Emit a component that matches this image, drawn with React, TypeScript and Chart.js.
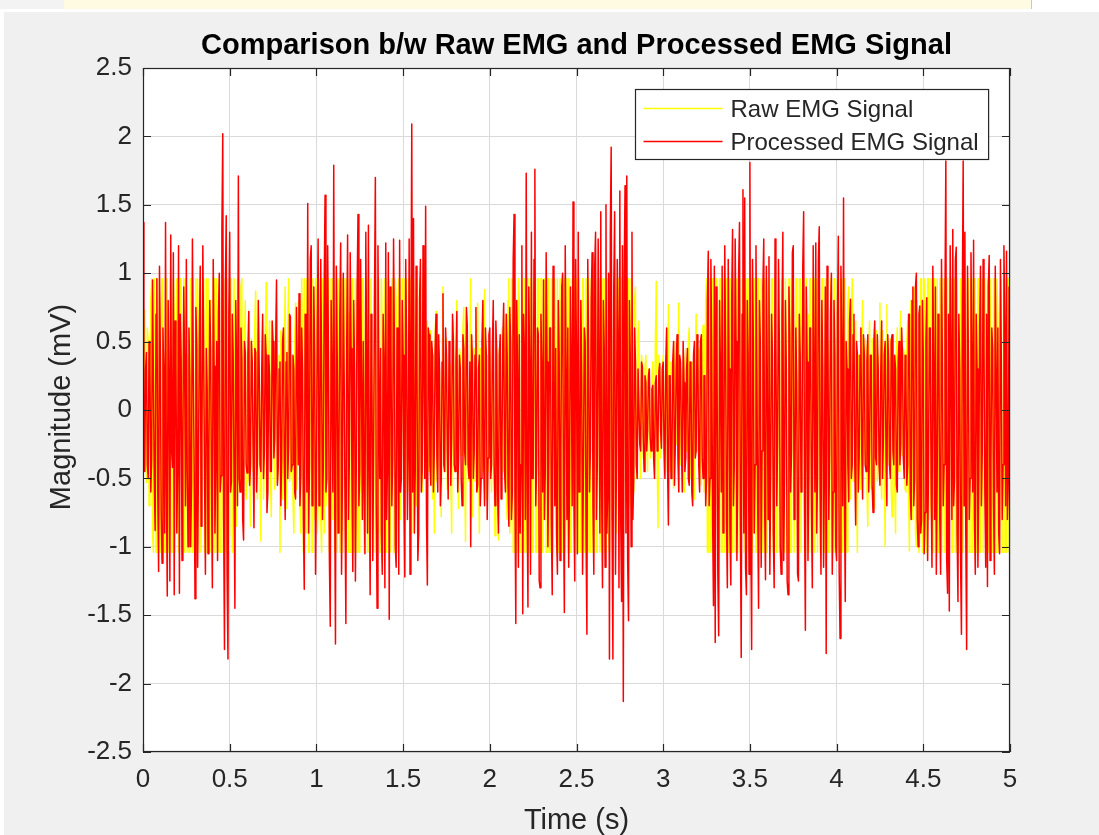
import React, { useEffect, useRef } from "react";
import { Chart, registerables } from "chart.js";

Chart.register(...registerables);

const TITLE = "Comparison b/w Raw EMG and Processed EMG Signal";
const X_LABEL = "Time (s)";
const Y_LABEL = "Magnitude (mV)";
const SERIES_NAMES = ["Raw EMG Signal", "Processed EMG Signal"];
const SERIES_COLORS = ["#ffff00", "#ff0000"];
const X_TICKS = [0, 0.5, 1, 1.5, 2, 2.5, 3, 3.5, 4, 4.5, 5];
const Y_TICKS = [-2.5, -2, -1.5, -1, -0.5, 0, 0.5, 1, 1.5, 2, 2.5];
const T_START = 0;
const T_END = 5;

// Raw EMG samples (mV), 0 s .. 5 s (one row = 0.5 s)
const RAW_EMG = [
  0.2,-0.4,0.73,-0.3,-0.53,0.6,0.5,-0.7,-0.3,0.8,0.96,-0.9,-1.04,0.96,0.5,-1.04,0.96,-0.6,-0.8,0.96,-1.04,0.7,0.96,-1.04,0.3,-1.04,-1.04,0.96,0.96,-1.04,-0.6,0.96,0.96,-1.04,-1.04,0.96,0.7,-1.04,-1.04,0.96,0.96,-1.04,-0.2,0.96,0.96,-1.04,-1.04,0.96,-1.04,0.96,0.96,-1.04,0.4,-1.04,-1.04,0.96,0.96,-1.04,0.96,-1.04,-0.9,0.96,-1.04,0.96,0.6,-1.04,0.96,-1.04,-1.04,0.96,0.96,-1.04,-0.4,0.96,-1.04,0.96,0.96,-1.04,0.8,-1.04,-1.04,0.96,0.96,-1.04,-1.04,0.96,0.2,-1.04,0.96,-1.04,-1.04,0.96,0.96,-0.8,-0.7,0.96,-1.04,0.96,0.96,-1.04,
  -0.9,0.96,0.96,-1.04,-0.7,0.96,0.96,-0.8,-0.85,0.96,0.96,-0.6,-0.5,0.9,0.96,-0.7,-0.6,0.5,0.8,-0.65,-0.52,0.4,0.72,-0.58,-0.85,0.52,0.4,-0.45,-0.26,0.65,0.87,-0.4,-0.65,0.58,0.26,-0.52,-0.96,0.45,0.58,-0.65,-0.4,0.52,0.93,-0.58,-0.13,0.4,0.65,-0.45,-0.78,0.52,0.45,-0.33,-0.58,0.65,0.78,-0.52,-0.4,0.4,-1.04,0.58,0.52,-0.65,-0.26,0.45,0.9,-0.4,-0.72,0.58,0.96,-0.52,-0.45,0.4,0.33,-0.65,-0.9,0.52,0.78,-0.58,-0.52,0.78,0.8,-0.7,-0.9,0.96,0.5,-1.04,0.96,-0.9,-0.8,0.96,0.96,-1.04,-1.04,0.96,0.4,-1.04,0.96,-0.8,-0.6,0.96,
  0.96,-0.9,-0.7,0.96,0.96,-0.8,-1.04,0.96,0.6,-0.9,0.96,-0.7,-0.5,0.96,0.96,-1.04,-0.9,0.96,0.96,-0.8,0.3,-1.04,-0.8,0.96,-1.04,0.96,0.96,-1.04,-1.04,0.96,0.96,-1.04,-0.3,0.96,-1.04,0.96,0.96,-1.04,0.7,-1.04,-1.04,0.96,0.96,-1.04,-1.04,0.96,0.5,-1.04,0.96,-1.04,-1.04,0.96,-0.6,0.96,0.96,-1.04,-1.04,0.96,0.96,-1.04,0.2,-1.04,-1.04,0.96,0.96,-1.04,-1.04,0.96,0.96,-1.04,-0.9,0.96,0.96,-1.04,-1.04,0.96,0.6,-1.04,-1.04,0.96,0.96,-1.04,-0.4,0.96,0.96,-1.04,-1.04,0.96,0.96,-1.04,-1.04,0.96,0.8,-1.04,-1.04,0.96,0.96,-0.8,-0.5,0.96,
  0.96,-0.7,-0.8,0.96,0.96,-0.6,-0.4,0.96,0.96,-0.8,-0.9,0.96,0.96,-0.5,0.3,-0.7,0.96,-0.6,-0.7,0.96,0.96,-0.5,-0.6,0.96,0.96,-0.4,-0.2,0.6,0.65,-0.4,-0.45,0.52,0.58,-0.33,-0.65,0.4,-0.9,0.58,0.72,-0.52,-0.4,0.45,0.26,-0.4,-0.78,0.52,0.9,-0.45,-0.2,0.4,0.52,-0.58,-0.58,0.33,0.13,-0.4,-0.9,0.52,0.65,-0.45,-0.26,0.4,0.8,-0.52,-0.72,0.45,0.4,-0.33,-0.33,0.58,0.75,-0.4,-0.96,0.52,0.26,-0.45,-0.52,0.4,0.96,-0.58,-0.78,0.4,0.45,-0.52,-0.26,0.58,0.78,-0.4,-0.9,0.45,0.4,-0.33,-0.45,0.65,0.88,-0.52,-0.65,0.4,0.26,-0.45,
  0.45,-0.3,-0.6,0.4,0.3,-0.5,-0.92,0.35,0.5,-0.4,-0.95,0.45,0.2,-0.3,0.6,-0.45,-0.4,0.5,0.7,-0.6,-0.8,0.8,0.96,-0.9,-0.6,0.96,0.96,-1.04,-1.04,0.96,0.6,-1.04,-1.04,0.96,0.8,-1.04,-1.04,0.96,0.5,-1.04,0.96,-1.04,-1.04,0.96,0.7,-1.04,-1.04,0.96,0.96,-1.04,-1.04,0.96,0.85,-1.04,-1.04,0.96,0.96,-1.04,-1.04,0.96,0.96,-1.04,-0.5,0.96,0.96,-1.04,-1.04,0.96,0.96,-1.04,-1.04,0.96,0.96,-1.04,-1.04,0.96,0.4,-1.04,0.96,-1.04,-1.04,0.96,0.96,-1.04,-1.04,0.96,0.96,-1.04,-0.7,0.96,-1.04,0.96,0.96,-1.04,-1.04,0.96,0.96,-1.04,-1.04,0.96,
  0.96,-1.04,-1.04,0.96,0.96,-1.04,-1.04,0.96,0.96,-1.04,-1.04,0.96,0.5,-1.04,0.96,-1.04,-1.04,0.96,0.96,-1.04,-1.04,0.96,0.96,-1.04,-1.04,0.96,0.96,-1.04,-0.8,0.96,-1.04,0.96,0.96,-1.04,-0.6,0.96,0.96,-0.9,-1.04,0.96,0.7,-0.8,-0.5,0.96,0.96,-0.7,-0.9,0.96,0.96,-0.6,-0.4,0.96,0.96,-0.8,-0.8,0.96,0.96,-0.5,-0.3,0.96,0.96,-0.6,-0.7,0.96,0.96,-0.5,-0.6,0.8,0.9,-0.5,-0.4,0.6,0.65,-0.3,-0.5,0.4,0.3,-0.35,-0.2,0.3,0.4,-0.25,-0.45,0.3,0.2,-0.35,-0.3,0.25,0.35,-0.4,-0.15,0.5,0.94,-0.3,-0.86,0.4,0.3,-0.35,-0.2,0.3,
  0.4,-0.3,-0.35,0.4,0.2,-0.45,0.77,-0.3,-0.45,0.35,0.3,-0.4,-0.57,0.3,0.5,-0.25,-0.2,0.4,0.78,-0.35,-0.4,0.3,0.25,-0.45,-0.6,0.35,0.45,-0.3,-0.3,0.5,0.6,-0.4,-0.5,0.3,0.35,-0.45,-0.65,0.4,0.7,-0.3,-0.25,0.45,0.4,-0.35,-0.55,0.5,0.62,-0.6,-0.4,0.8,0.96,-1.04,-1.04,0.96,0.96,-1.04,-0.8,0.96,0.96,-1.04,-1.04,0.96,0.5,-1.04,-1.04,0.96,0.96,-1.04,-1.04,0.96,0.96,-1.04,-0.6,0.96,0.96,-1.04,-1.04,0.96,0.96,-1.04,-1.04,0.96,0.3,-1.04,0.96,-1.04,-1.04,0.96,0.96,-1.04,-1.04,0.96,0.96,-1.04,-0.7,0.96,-1.04,0.96,0.96,-1.04,
  -1.04,0.96,0.96,-1.04,-0.5,0.96,0.96,-1.04,-1.04,0.96,0.96,-1.04,-1.04,0.96,0.6,-1.04,-1.04,0.96,0.96,-1.04,-1.04,0.96,0.96,-1.04,-0.3,0.96,0.96,-1.04,-1.04,0.96,0.96,-1.04,-1.04,0.96,0.96,-1.04,-0.8,0.96,0.96,-1.04,-1.04,0.96,0.4,-1.04,-1.04,0.96,0.96,-1.04,-1.04,0.96,0.96,-1.04,-1.04,0.96,0.96,-1.04,-0.6,0.96,0.96,-1.04,-1.04,0.96,0.96,-1.04,-1.04,0.96,0.7,-1.04,-1.04,0.96,0.96,-1.04,-1.04,0.96,0.96,-1.04,-0.4,0.96,-1.04,0.96,0.96,-1.04,-1.04,0.96,0.96,-1.04,-1.04,0.96,0.96,-1.04,0.5,-1.04,-1.04,0.96,0.96,-1.04,-1.04,0.96,0.96,-1.04,
  -1.04,0.96,0.96,-1.04,-1.04,0.96,0.96,-1.04,-0.8,0.96,0.96,-0.7,-1.04,0.78,0.9,-0.65,-0.65,0.58,0.96,-0.52,-0.4,0.45,0.65,-0.52,-1.04,0.4,0.4,-0.58,-0.52,0.45,0.8,-0.4,-0.26,0.52,0.45,-0.58,-0.85,0.4,0.65,-0.45,-0.58,0.52,0.26,-0.4,-0.72,0.45,0.58,-0.52,-0.4,0.4,0.78,-0.45,-0.65,0.58,0.4,-0.4,-1.0,0.52,0.77,-0.4,-0.26,0.45,0.52,-0.58,-0.78,0.4,0.33,-0.52,-0.9,0.45,0.6,-0.4,-0.45,0.52,0.72,-0.33,-0.33,0.45,0.4,-0.58,-0.6,0.5,0.65,-0.6,-1.03,0.7,0.8,-0.8,-0.7,0.9,0.87,-0.9,-1.0,0.8,0.5,-1.04,-0.9,0.96,0.96,-1.04,
  -0.6,0.96,0.8,-0.9,-1.04,0.96,0.96,-0.8,-0.7,0.96,0.9,-1.04,-1.04,0.96,0.6,-0.9,0.96,-1.04,-0.9,0.96,0.96,-1.04,-0.5,0.96,0.96,-1.04,-1.04,0.96,0.96,-1.04,-0.8,0.96,0.96,-1.04,-1.04,0.96,0.96,-1.04,-1.04,0.96,0.96,-1.04,-1.04,0.96,0.4,-1.04,-1.04,0.96,0.96,-1.04,-1.04,0.96,0.96,-1.04,-1.04,0.96,0.96,-1.04,-0.6,0.96,0.96,-1.04,-1.04,0.96,0.96,-1.04,-1.04,0.96,0.96,-1.04,-1.04,0.96,0.2,-1.04,0.96,-1.04,-1.04,0.96,0.96,-1.04,-1.04,0.96,0.96,-1.04,-1.04,0.96,0.7,-1.04,-1.04,0.96,0.96,-1.04,-1.04,0.96,0.96,-1.04,-1.04,0.96,0.96,-1.04,
  -1.04,
];

// Processed EMG samples (mV), 0 s .. 5 s (one row = 0.5 s)
const PROCESSED_EMG = [
  1.37,-0.2,-0.45,0.3,0.42,-0.4,-0.5,0.5,0.3,-0.6,-0.35,0.95,0.22,-0.5,-0.88,0.7,0.96,-0.6,-1.18,1.05,0.41,-0.75,-1.12,0.6,0.25,-0.9,1.37,-0.55,-1.36,0.8,0.22,-1.25,1.28,-0.3,-0.42,1.15,-1.35,0.65,0.35,-0.9,-0.41,1.2,-1.34,0.7,0.38,-1.1,-0.25,0.9,0.33,-0.7,1.1,-0.45,-1.0,0.6,0.22,-1.0,-0.52,1.25,0.31,-0.4,-1.38,0.75,0.46,-1.15,-0.38,0.5,1.05,-0.85,-0.22,1.2,0.39,-0.5,-1.2,0.45,0.16,-1.05,-0.31,0.8,0.44,-0.55,-1.3,1.1,0.32,-0.9,-0.35,0.5,-1.1,0.7,1.0,-0.6,-0.48,1.3,2.02,-0.8,-1.75,0.9,1.42,-1.2,-1.82,0.7,
  1.3,-0.6,-0.52,0.7,0.4,-0.5,-1.45,0.8,0.3,-0.7,1.71,-0.5,-0.6,0.6,0.38,-0.8,-0.95,0.5,0.42,-0.4,-0.46,0.4,0.72,-0.55,-0.4,0.5,0.35,-0.3,-0.86,0.45,0.42,-0.6,-0.35,0.8,0.3,-0.4,-0.45,0.3,0.7,-0.5,-0.3,0.55,0.4,-0.75,-0.6,0.4,0.25,-0.45,-0.45,0.65,0.5,-0.35,-0.2,0.45,0.95,-0.55,-0.42,0.3,0.35,-0.7,-0.35,0.5,0.6,-0.4,-0.8,0.35,0.42,-0.5,-0.25,0.7,0.68,-0.45,-0.4,0.4,0.3,-0.6,-0.65,0.75,0.3,-0.4,0.85,-0.7,-0.48,0.6,0.3,-0.8,-1.31,0.7,0.5,-0.6,1.51,-0.9,-0.4,1.1,1.2,-0.7,-0.6,0.9,0.4,-1.2,
  -0.55,0.6,1.25,-0.7,-0.4,1.1,0.3,-0.8,-0.4,0.9,1.57,-0.6,-0.5,1.2,0.3,-1.1,-1.58,0.8,0.2,-0.6,1.79,-0.5,-1.71,1.05,0.4,-0.9,-0.3,0.7,1.22,-1.2,-0.5,1.0,0.25,-0.7,-1.56,0.5,1.28,-0.8,-0.35,1.15,0.45,-0.5,-1.18,0.8,0.3,-1.25,-0.4,0.9,1.43,-0.7,-0.45,1.1,0.2,-0.8,0.5,-0.6,-1.05,1.3,0.3,-0.9,1.35,-0.5,-1.35,0.7,0.35,-1.1,-0.3,0.8,1.7,-0.7,-1.45,1.2,0.2,-0.5,0.45,-0.9,-1.2,0.7,0.35,-1.3,1.22,-0.8,-0.4,1.15,-1.53,0.9,0.48,-0.7,-0.35,1.25,0.45,-1.0,-1.15,0.6,0.3,-1.2,1.24,-0.6,-0.5,0.8,
  0.4,-0.7,-1.22,1.1,0.5,-0.8,-0.3,1.25,-1.2,0.5,2.09,-0.6,1.4,-0.9,-0.45,1.05,0.32,-1.1,-0.9,0.8,1.1,-0.6,-0.45,1.2,0.3,-0.5,1.49,-0.8,-1.28,0.6,0.55,-0.4,-0.55,0.5,0.4,-0.6,-0.3,0.45,0.7,-0.35,-0.6,0.55,0.3,-0.7,-0.5,0.35,0.85,-0.4,-0.45,0.6,0.4,-0.3,-0.65,0.5,0.4,-0.55,-0.2,0.7,0.5,-0.4,-0.45,0.35,0.72,-0.6,-0.35,0.4,0.3,-0.5,-0.7,0.55,0.45,-0.3,-0.4,0.75,0.62,-0.4,-0.5,0.35,-1.0,0.55,0.35,-0.5,-0.3,0.4,0.75,-0.6,-0.55,0.3,0.4,-0.7,-0.5,0.5,0.8,-0.4,-0.7,0.6,0.4,-0.8,-0.35,0.55,
  0.6,-0.5,-0.4,0.45,0.8,-0.4,-0.7,0.65,0.4,-0.6,-0.9,0.4,0.55,-0.65,-0.3,0.5,0.78,-0.45,-0.6,0.7,0.4,-0.55,-0.85,0.75,0.5,-0.8,-0.6,1.1,1.43,-0.6,-1.56,0.8,0.3,-1.15,0.55,-0.9,-0.4,1.2,-1.49,0.7,0.4,-0.8,1.73,-0.6,-1.44,0.9,0.3,-1.2,1.3,-0.5,-0.5,1.1,1.76,-0.7,-0.4,0.6,0.55,-1.25,-1.3,0.7,0.3,-0.6,0.95,-0.8,-0.45,1.15,0.35,-1.0,-0.4,0.6,0.6,-0.8,-1.35,1.05,0.2,-0.7,0.45,-0.9,-1.2,0.8,0.4,-1.1,-0.3,0.9,1.0,-0.7,-1.48,1.2,0.3,-0.8,0.6,-1.15,-0.5,0.9,0.35,-0.7,1.52,-0.6,-1.25,1.1,
  0.4,-1.05,1.3,-0.6,-0.5,0.8,0.25,-1.2,-0.4,0.6,0.5,-0.9,-1.64,1.1,0.4,-0.6,-0.3,0.8,1.15,-0.7,-1.2,1.05,1.3,-0.8,-0.4,1.25,0.3,-0.9,1.45,-0.6,-1.3,0.8,0.45,-1.15,1.5,-0.9,-0.6,1.0,-1.82,1.3,1.92,-0.8,-1.82,0.9,1.45,-1.2,-0.45,1.1,0.5,-1.3,1.6,-0.8,-1.4,1.2,-2.13,1.0,1.64,-0.9,1.71,-1.1,-1.54,0.8,0.4,-1.0,1.3,-0.8,-0.5,0.6,0.35,-0.4,-0.5,0.3,0.3,-0.25,-0.3,0.35,0.32,-0.2,-0.45,0.25,0.2,-0.3,-0.15,0.25,0.3,-0.2,-0.3,0.15,0.18,-0.35,-0.5,0.2,0.25,-0.3,-0.2,0.28,0.34,-0.15,-0.28,0.3,
  0.35,-0.3,-0.5,0.35,0.6,-0.4,-0.84,0.25,0.25,-0.5,-0.4,0.35,0.5,-0.55,-0.25,0.3,0.55,-0.35,-0.6,0.4,0.35,-0.25,-0.6,0.5,0.2,-0.45,-0.35,0.3,0.45,-0.5,-0.55,0.35,0.3,-0.6,-0.7,0.4,0.5,-0.35,-0.3,0.55,0.35,-0.4,-0.6,0.5,0.55,-0.35,-0.5,0.25,0.25,-0.7,-0.5,0.8,1.16,-0.7,-0.5,1.1,0.4,-0.8,-1.43,1.05,-1.7,0.9,0.5,-1.2,-1.65,0.8,0.3,-0.6,1.05,-0.9,-0.4,1.2,0.45,-0.8,-1.3,1.1,0.3,-0.9,-1.28,0.8,1.32,-0.7,-0.4,1.25,0.5,-1.1,-0.45,1.0,1.37,-0.8,-1.81,0.7,1.61,-0.9,1.55,-1.15,-1.35,0.8,0.4,-1.2,
  1.81,-0.8,-1.75,1.1,0.5,-0.9,-0.4,1.2,0.3,-0.7,-1.45,0.8,0.5,-1.15,-0.3,0.9,1.25,-0.7,-1.24,1.05,0.3,-0.8,1.12,-1.2,-0.45,0.7,0.4,-0.9,-1.3,1.25,0.5,-0.7,-0.2,1.1,0.45,-1.0,-1.2,0.7,1.3,-1.1,-0.45,0.8,0.3,-1.25,-1.35,0.9,0.55,-0.6,-0.3,1.15,1.2,-0.8,-0.5,0.6,0.2,-1.2,-1.25,0.7,0.4,-0.6,-0.4,1.05,1.45,-0.7,-1.61,0.9,0.35,-1.1,-0.45,0.6,0.6,-0.7,-1.3,1.2,0.25,-0.6,1.22,-0.9,-0.5,1.1,1.34,-0.6,-1.2,0.8,0.3,-1.15,-0.4,0.9,-1.78,1.05,0.55,-0.8,-0.3,0.7,1.0,-1.2,-0.6,0.8,0.4,-1.0,
  -1.1,0.7,1.27,-1.2,-1.67,1.05,0.4,-0.7,1.55,-0.6,-1.4,0.5,0.3,-0.4,-0.67,0.65,0.81,-0.5,-0.4,0.55,0.7,-0.4,-0.84,0.5,0.4,-0.6,-0.35,0.4,0.6,-0.3,-0.65,0.55,0.4,-0.4,-0.45,0.35,0.55,-0.6,-0.3,0.4,0.4,-0.55,-0.75,0.5,0.65,-0.35,-0.4,0.55,0.3,-0.4,-0.55,0.3,0.65,-0.5,-0.2,0.4,0.5,-0.35,-0.7,0.55,0.35,-0.4,-0.5,0.5,0.55,-0.3,-0.4,0.4,0.3,-0.55,-0.6,0.35,0.5,-0.4,-0.25,0.6,0.4,-0.35,-0.5,0.4,0.2,-0.55,-0.4,0.7,0.7,-0.6,-0.8,0.8,0.9,-0.7,-0.5,0.9,1.0,-0.8,-1.0,0.7,0.76,-0.9,-0.8,0.8,
  0.4,-1.05,-0.75,0.5,0.82,-1.1,-0.4,0.6,0.6,-0.5,-1.15,1.05,0.3,-0.8,0.9,-1.2,-0.5,0.7,0.4,-0.8,-1.2,1.1,0.35,-0.7,-0.4,0.8,1.82,-1.1,-1.34,0.7,-1.47,1.2,0.4,-0.8,1.32,-0.7,-0.5,1.1,1.19,-0.9,-1.4,0.7,0.3,-1.1,-1.64,0.8,1.82,-0.7,1.3,-0.9,-1.75,1.05,0.4,-0.8,-0.5,1.15,0.35,-0.6,1.24,-0.8,-1.2,0.7,0.3,-1.15,-0.5,0.6,1.05,-0.7,-0.3,1.1,0.45,-0.6,-1.15,0.7,-1.29,0.9,1.13,-1.1,-0.4,0.6,0.45,-0.7,-1.2,1.05,0.3,-0.6,0.6,-0.9,-1.05,1.1,0.35,-0.8,-0.4,1.2,0.6,-0.7,1.16,-0.8,-0.5,0.9,
  -1.46,
];

const FONT = '"Liberation Sans", Arial, Helvetica, sans-serif';
const AXIS_COLOR = "#262626";

function toPoints(values: number[]) {
  const dt = (T_END - T_START) / (values.length - 1);
  return values.map((v, i) => ({ x: T_START + i * dt, y: v }));
}

const decorPlugin = {
  id: "matlabDecor",
  beforeDraw(chart: any) {
    const { ctx, chartArea: a } = chart;
    ctx.save();
    ctx.fillStyle = "#ffffff";
    ctx.fillRect(a.left, a.top, a.right - a.left, a.bottom - a.top);
    ctx.restore();
  },
  afterDatasetsDraw(chart: any) {
    const { ctx, chartArea: a } = chart;
    const xs = chart.scales.x;
    const ys = chart.scales.y;
    ctx.save();
    ctx.strokeStyle = AXIS_COLOR;
    ctx.lineWidth = 1.2;
    ctx.strokeRect(a.left + 0.5, a.top + 0.5, a.right - a.left - 1, a.bottom - a.top - 1);
    const tl = 8;
    ctx.beginPath();
    X_TICKS.forEach((v) => {
      const px = Math.round(xs.getPixelForValue(v)) + 0.5;
      ctx.moveTo(px, a.bottom);
      ctx.lineTo(px, a.bottom - tl);
      ctx.moveTo(px, a.top);
      ctx.lineTo(px, a.top + tl);
    });
    Y_TICKS.forEach((v) => {
      const py = Math.round(ys.getPixelForValue(v)) + 0.5;
      ctx.moveTo(a.left, py);
      ctx.lineTo(a.left + tl, py);
      ctx.moveTo(a.right, py);
      ctx.lineTo(a.right - tl, py);
    });
    ctx.stroke();

    // legend
    const ds = chart.data.datasets;
    ctx.font = `24px ${FONT}`;
    let maxW = 0;
    ds.forEach((d: any) => {
      maxW = Math.max(maxW, ctx.measureText(d.label).width);
    });
    const lineLen = 79;
    const boxW = 8 + lineLen + 8 + maxW + 10;
    const boxH = 70;
    const bx = Math.round(a.right - 22 - boxW) + 0.5;
    const by = Math.round(a.top + 21) + 0.5;
    ctx.fillStyle = "#ffffff";
    ctx.fillRect(bx, by, boxW, boxH);
    ctx.strokeStyle = AXIS_COLOR;
    ctx.lineWidth = 1.2;
    ctx.strokeRect(bx, by, boxW, boxH);
    ds.forEach((d: any, i: number) => {
      const cy = by + 19 + i * 33;
      ctx.strokeStyle = d.borderColor;
      ctx.lineWidth = 1.3;
      ctx.beginPath();
      ctx.moveTo(bx + 8, cy);
      ctx.lineTo(bx + 8 + lineLen, cy);
      ctx.stroke();
      ctx.fillStyle = AXIS_COLOR;
      ctx.textAlign = "left";
      ctx.textBaseline = "middle";
      ctx.fillText(d.label, bx + 8 + lineLen + 8, cy + 2);
    });
    ctx.restore();
  },
  afterDraw(chart: any) {
    const { ctx, chartArea: a } = chart;
    const cx = (a.left + a.right) / 2;
    const cy = (a.top + a.bottom) / 2;
    ctx.save();
    ctx.fillStyle = "#000000";
    ctx.textAlign = "center";
    ctx.textBaseline = "alphabetic";
    ctx.font = `bold 29px ${FONT}`;
    ctx.fillText(TITLE, cx, 54);
    ctx.fillStyle = AXIS_COLOR;
    ctx.font = `29px ${FONT}`;
    ctx.fillText(X_LABEL, cx, 829);
    ctx.translate(70, cy - 3);
    ctx.rotate(-Math.PI / 2);
    ctx.fillText(Y_LABEL, 0, 0);
    ctx.restore();
  },
};

export default function App() {
  const canvasRef = useRef<HTMLCanvasElement | null>(null);

  useEffect(() => {
    document.body.style.margin = "0";
    const canvas = canvasRef.current;
    if (!canvas) return;
    const chart = new Chart(canvas, {
      type: "line",
      data: {
        datasets: [
          {
            label: SERIES_NAMES[0],
            data: toPoints(RAW_EMG),
            borderColor: SERIES_COLORS[0],
            borderWidth: 1.5,
            pointRadius: 0,
            tension: 0,
            borderJoinStyle: "round",
            order: 2,
          },
          {
            label: SERIES_NAMES[1],
            data: toPoints(PROCESSED_EMG),
            borderColor: SERIES_COLORS[1],
            borderWidth: 1.5,
            pointRadius: 0,
            tension: 0,
            borderJoinStyle: "round",
            order: 1,
          },
        ],
      },
      options: {
        responsive: false,
        animation: false,
        devicePixelRatio: 1,
        events: [],
        layout: { padding: { left: 0, top: 68, right: 89, bottom: 0 } },
        plugins: {
          legend: { display: false },
          title: { display: false },
          tooltip: { enabled: false },
        },
        scales: {
          x: {
            type: "linear",
            min: X_TICKS[0],
            max: X_TICKS[X_TICKS.length - 1],
            afterBuildTicks: (s: any) => {
              s.ticks = X_TICKS.map((v) => ({ value: v }));
            },
            afterFit: (s: any) => {
              s.height = 83;
            },
            ticks: {
              callback: (v: any) => String(v),
              font: { family: FONT, size: 26 },
              color: AXIS_COLOR,
              padding: 12,
              maxRotation: 0,
              autoSkip: false,
            },
            grid: { color: "#dadada", lineWidth: 1, drawTicks: false },
            border: { display: false },
          },
          y: {
            type: "linear",
            min: Y_TICKS[0],
            max: Y_TICKS[Y_TICKS.length - 1],
            afterBuildTicks: (s: any) => {
              s.ticks = Y_TICKS.map((v) => ({ value: v }));
            },
            afterFit: (s: any) => {
              s.width = 143;
            },
            ticks: {
              callback: (v: any) => String(v),
              font: { family: FONT, size: 26 },
              color: AXIS_COLOR,
              padding: 11,
              autoSkip: false,
            },
            grid: { color: "#dadada", lineWidth: 1, drawTicks: false },
            border: { display: false },
          },
        },
      },
      plugins: [decorPlugin],
    });
    return () => chart.destroy();
  }, []);

  return (
    <div style={{ position: "absolute", left: 0, top: 0, width: 1099, height: 835, background: "#ffffff", overflow: "hidden" }}>
      <div style={{ position: "absolute", left: 0, top: 0, width: 64, height: 9, background: "#f3f3f3" }} />
      <div style={{ position: "absolute", left: 64, top: 0, width: 967, height: 9, background: "#fffbe3", borderRight: "1px solid #c8c8c8" }} />
      <div style={{ position: "absolute", left: 4, top: 12, width: 1095, height: 823, background: "#f0f0f0" }} />
      <canvas ref={canvasRef} width={1099} height={835} style={{ position: "absolute", left: 0, top: 0, display: "block" }} />
    </div>
  );
}
